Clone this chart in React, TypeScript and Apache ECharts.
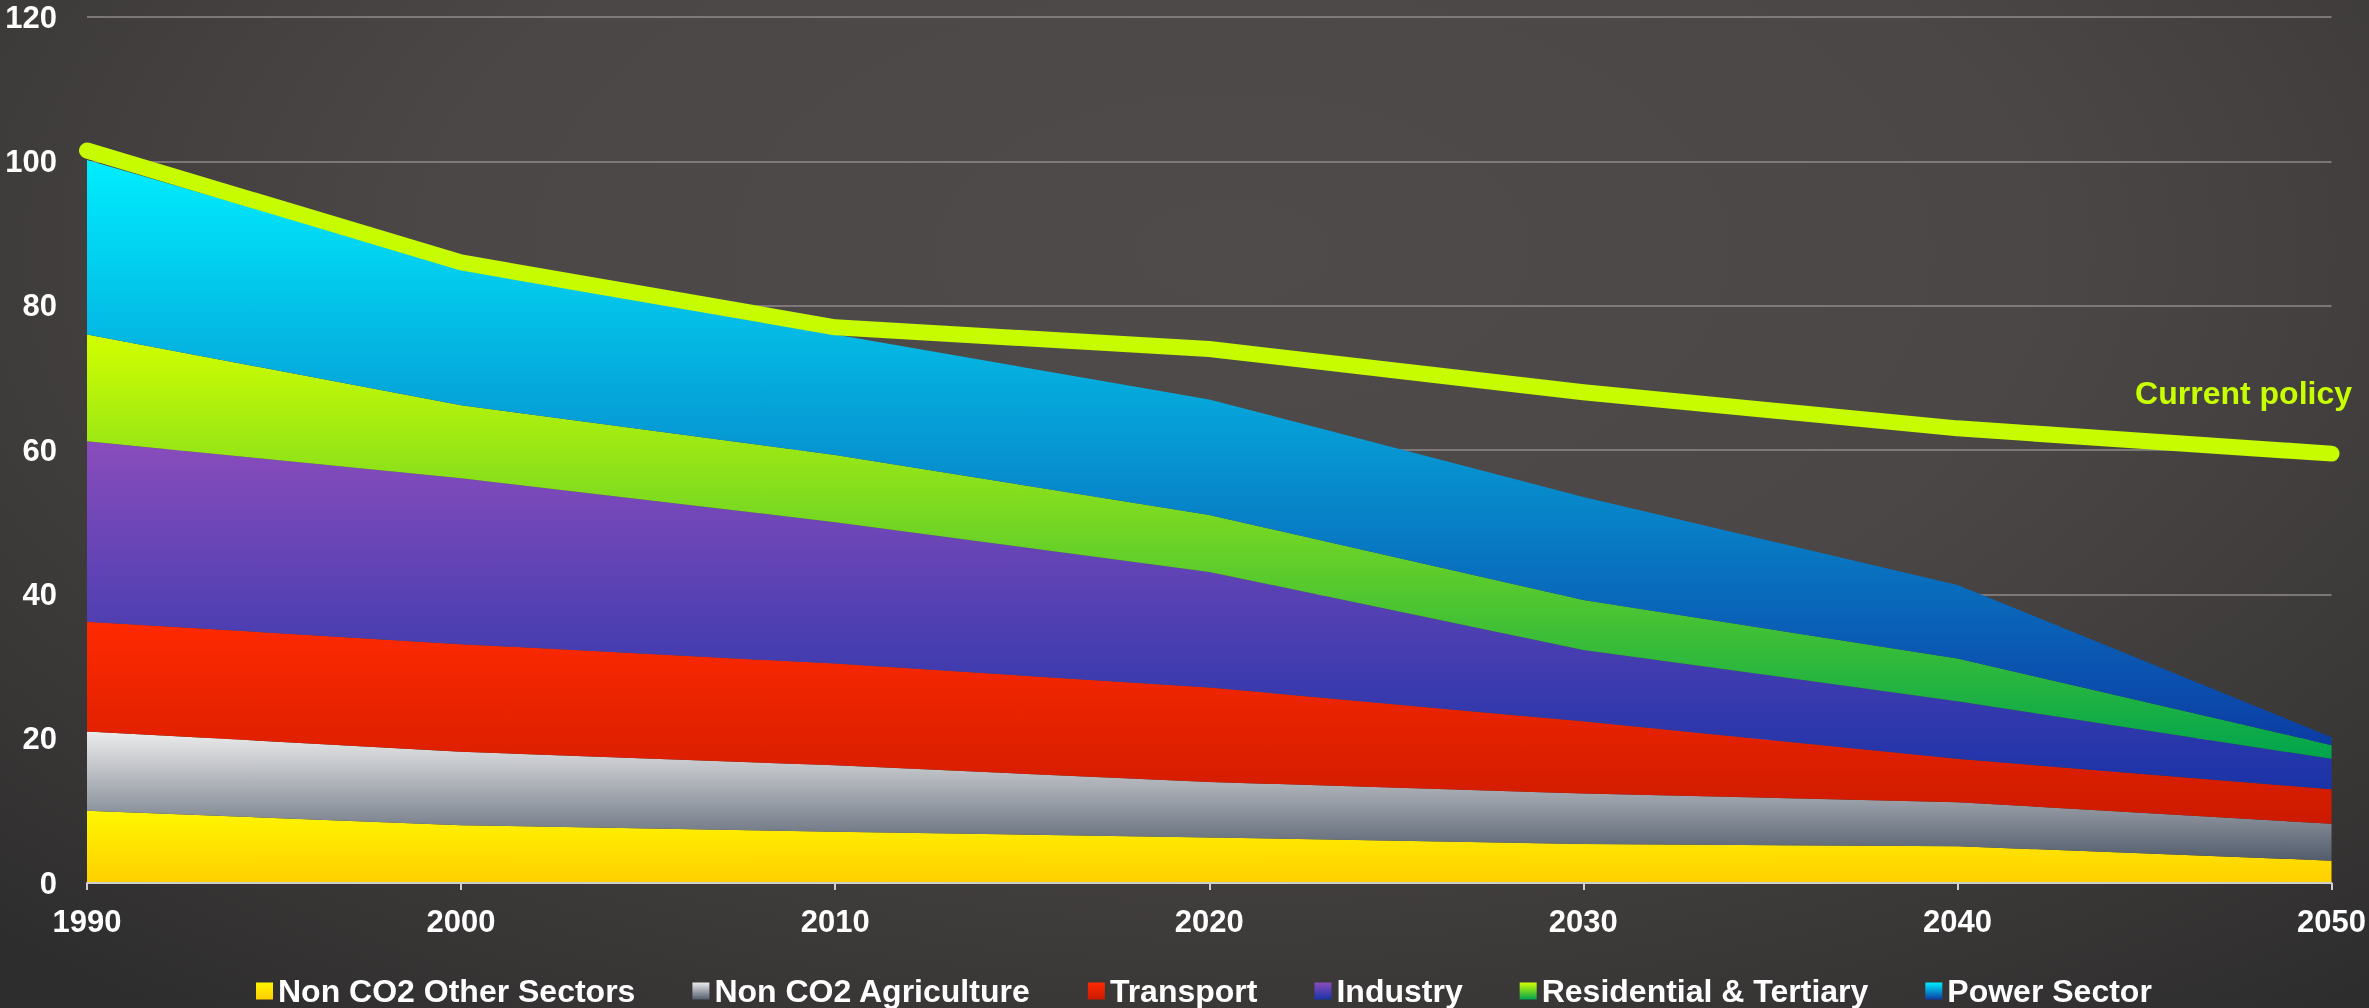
import React, { useEffect, useRef } from "react";
import * as echarts from "echarts";

const years = ["1990", "2000", "2010", "2020", "2030", "2040", "2050"];
const nonCO2Other = [10, 8, 7.1, 6.3, 5.4, 5.1, 3.1];
const nonCO2Agri = [11, 10.2, 9.2, 7.7, 7.0, 6.1, 5.1];
const transport = [15.2, 14.9, 14.1, 13.1, 10.0, 6.0, 4.8];
const industry = [25, 23, 19.6, 16, 9.9, 8.0, 4.2];
const residential = [14.8, 10.1, 9.3, 7.9, 6.9, 5.9, 1.9];
const power = [24.2, 19, 16.7, 16, 14.3, 10.2, 1.1];
const currentPolicy = [101.5, 86, 77, 74, 68, 63, 59.5];

const seriesNames = [
  "Non CO2 Other Sectors",
  "Non CO2 Agriculture",
  "Transport",
  "Industry",
  "Residential & Tertiary",
  "Power Sector",
];
const seriesData = [nonCO2Other, nonCO2Agri, transport, industry, residential, power];
const gradients: [string, string][] = [
  ["#fff600", "#ffcf00"],
  ["#ececec", "#525c6c"],
  ["#ff2a00", "#cc1a00"],
  ["#8a4cbc", "#1a33a8"],
  ["#d2ff00", "#00a44e"],
  ["#00eeff", "#0c3ca4"],
];

const FONT = "'Liberation Sans', Arial, sans-serif";

export default function App() {
  const ref = useRef<HTMLDivElement>(null);
  useEffect(() => {
    const chart = echarts.init(ref.current!, null, { renderer: "svg" });
    const grad = (c: [string, string]) => ({
      type: "linear",
      x: 0,
      y: 0,
      x2: 0,
      y2: 1,
      colorStops: [
        { offset: 0, color: c[0] },
        { offset: 1, color: c[1] },
      ],
    });
    const areaSeries = seriesNames.map((name, i) => ({
      name,
      type: "line",
      stack: "total",
      data: seriesData[i],
      symbol: "none",
      showSymbol: false,
      lineStyle: { width: 0 },
      itemStyle: { color: grad(gradients[i]) },
      areaStyle: { color: grad(gradients[i]), opacity: 1 },
      z: 2,
    }));
    chart.setOption({
      animation: false,
      backgroundColor: "transparent",
      grid: { left: 87, right: 31, top: 17, bottom: 125, containLabel: false },
      legend: {
        data: seriesNames,
        left: 251,
        top: 970,
        icon: "rect",
        itemWidth: 17,
        itemHeight: 17,
        itemGap: 57,
        textStyle: { color: "#ffffff", fontSize: 32, fontWeight: "bold", fontFamily: FONT },
      },
      xAxis: {
        type: "category",
        data: years,
        boundaryGap: false,
        axisLine: { show: true, lineStyle: { color: "#cfcfcf", width: 2 } },
        axisTick: { show: true, length: 7, lineStyle: { color: "#cfcfcf", width: 2 } },
        axisLabel: {
          color: "#ffffff",
          fontSize: 31,
          fontWeight: "bold",
          fontFamily: FONT,
          margin: 23,
        },
        splitLine: { show: false },
        z: 5,
      },
      yAxis: {
        type: "value",
        min: 0,
        max: 120,
        interval: 20,
        axisLine: { show: false },
        axisTick: { show: false },
        axisLabel: {
          color: "#ffffff",
          fontSize: 31,
          fontWeight: "bold",
          fontFamily: FONT,
          margin: 30,
        },
        splitLine: { show: true, lineStyle: { color: "#8f8b8a", width: 1.5 } },
      },
      graphic: [
        {
          type: "text",
          right: 17,
          top: 377,
          style: {
            text: "Current policy",
            fill: "#c8ff00",
            fontSize: 32,
            fontWeight: "bold",
            fontFamily: FONT,
          },
        },
      ],
      series: [
        ...areaSeries,
        {
          name: "Current policy",
          type: "line",
          data: currentPolicy,
          symbol: "none",
          showSymbol: false,
          clip: false,
          lineStyle: { color: "#c6fb00", width: 16, cap: "round", join: "round" },
          itemStyle: { color: "#c6fb00" },
          z: 10,
        },
      ],
    });
    return () => chart.dispose();
  }, []);
  return (
    <div
      style={{
        position: "fixed",
        left: 0,
        top: 0,
        width: 2369,
        height: 1008,
        background:
          "radial-gradient(ellipse 75% 95% at 52% 25%, #4f4b4a 0%, #4b4746 45%, #3c3a39 75%, #2e2d2d 100%)",
      }}
    >
      <div ref={ref} style={{ width: 2369, height: 1008 }} />
    </div>
  );
}
